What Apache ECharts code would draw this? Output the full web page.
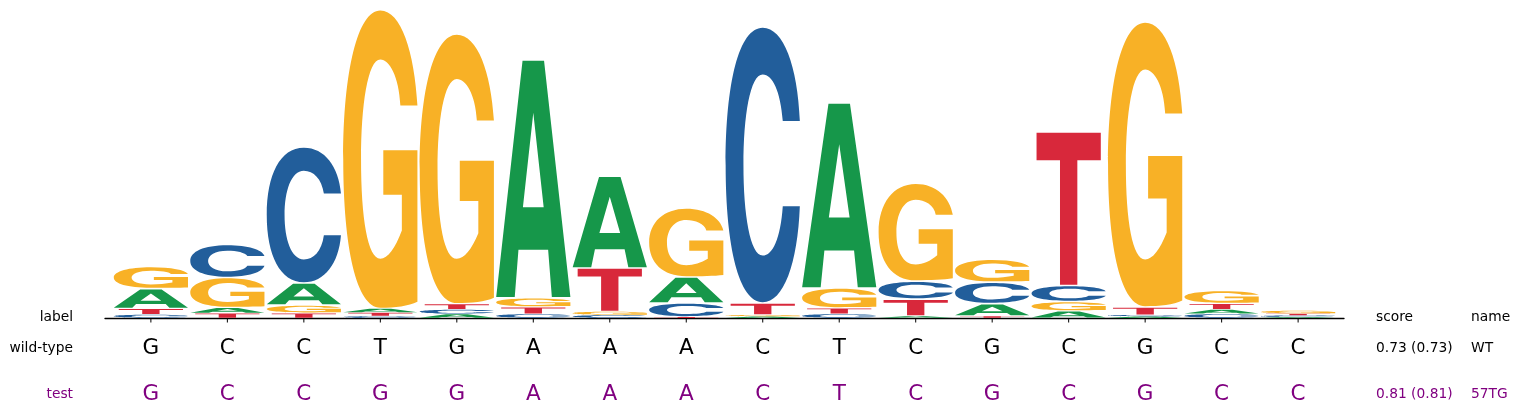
<!DOCTYPE html>
<html>
<head>
<meta charset="utf-8">
<script src="https://cdn.jsdelivr.net/npm/echarts@6/dist/echarts.min.js"></script>
<style>
html,body{margin:0;padding:0;background:#fff;}
#chart{width:1520px;height:415px;}
</style>
</head>
<body>
<div id="chart"></div>
<script>
// ---- data ----
const positions = [0,1,2,3,4,5,6,7,8,9,10,11,12,13,14,15];
const heightA = [0.133,0.037,0.147,0.027,0.027,1.587,0.613,0.173,0.010,1.233,0.013,0.083,0.047,0.010,0.030,0.007];
const heightC = [0.023,0.220,0.907,0.013,0.030,0.027,0.020,0.093,1.840,0.027,0.120,0.143,0.107,0.010,0.027,0.010];
const heightG = [0.147,0.200,0.053,1.993,1.800,0.060,0.023,0.460,0.010,0.133,0.653,0.153,0.063,1.900,0.087,0.020];
const heightT = [0.040,0.033,0.033,0.023,0.037,0.047,0.290,0.007,0.080,0.040,0.113,0.013,1.023,0.053,0.040,0.013];
const wildTypeSeq = ['G','C','C','T','G','A','A','A','C','T','C','G','C','G','C','C'];
const testSeq     = ['G','C','C','G','G','A','A','A','C','T','C','G','C','G','C','C'];
const rowLabels = ['wild-type','test'];
const rowScores = ['0.73 (0.73)','0.81 (0.81)'];
const rowNames = ['WT','57TG'];

// ---- glyph outlines (unit box 0..100, y down) ----
const GLYPH = {
  A: 'M0 100 L35.5 0 L64.5 0 L100 100 L75 100 L70 80 L30 80 L25 100 Z M36 62 L64 62 L50 22 Z',
  C: 'M100 34 L77 34 C74 23 63 17 50 17 C33 17 24 32 24 50 C24 68 33 83 50 83 C63 83 74 77 77 65 L100 65 C97 86 78 100 50 100 C18 100 0 80 0 50 C0 20 18 0 50 0 C78 0 97 14 100 34 Z',
  G: 'M100 32 L77 32 C75 22 62 16.5 50 16.5 C33 16.5 24 32 24 50 C24 70 33 83.5 50 83.5 C60 83.5 70 80 79 74 L79 62 L54 62 L54 47 L100 47 L100 98 C88 99.5 70 100 50 100 C18 100 0 80 0 50 C0 20 20 0 50 0 C78 0 96 14 100 32 Z',
  T: 'M0 0 L100 0 L100 18 L63.5 18 L63.5 100 L36.5 100 L36.5 18 L0 18 Z'
};
const GLYPH_WIDTH = {A:0.97, C:0.97, G:0.97, T:0.84};
const COLORS = {A:'#16974a', C:'#225e9b', G:'#f8b126', T:'#d8283b'};
const HEIGHTS = {A:heightA, C:heightC, G:heightG, T:heightT};
const FONT = 'DejaVu Sans';
const PURPLE = '#800080';

const chart = echarts.init(document.getElementById('chart'), null, {renderer:'canvas'});

function renderItem(params, api) {
  const i = api.value(0);
  const letters = ['A','C','G','T'].map(l => ({l, v: HEIGHTS[l][i]}))
    .sort((a,b) => a.v - b.v);
  const base0 = api.coord([i, 0]);
  const cx = base0[0];
  const children = [];
  let base = 0;
  letters.forEach(o => {
    const w = GLYPH_WIDTH[o.l];
    const left = api.coord([i - w/2, 0])[0];
    const right = api.coord([i + w/2, 0])[0];
    const y0 = api.coord([i, base])[1];
    const y1 = api.coord([i, base + o.v])[1];
    const h = y0 - y1;
    const gap = Math.min(h * 0.15, 1.6);
    children.push({
      type: 'path',
      shape: {pathData: GLYPH[o.l], x: left, y: y1 + gap/2, width: right - left, height: Math.max(h - gap, 0.1), layout: 'cover'},
      style: {fill: COLORS[o.l]}
    });
    base += o.v;
  });
  // tick mark under the axis
  children.push({type:'line', shape:{x1: cx, y1: base0[1], x2: cx, y2: base0[1] + 4.5}, style:{stroke:'#000', lineWidth:1}});
  children.push({type:'text', x: cx, y: 348, style:{text: wildTypeSeq[i], fill:'#000', font:'21.5px "'+FONT+'"', align:'center', verticalAlign:'middle'}});
  children.push({type:'text', x: cx, y: 394, style:{text: testSeq[i], fill:PURPLE, font:'21.5px "'+FONT+'"', align:'center', verticalAlign:'middle'}});
  return {type:'group', children};
}

const txt = (text, x, y, color, align) => ({
  type:'text', x, y,
  style:{text, fill: color, font:'13.8px "'+FONT+'"', align, verticalAlign:'middle'}
});

chart.setOption({
  animation: false,
  grid: {left: 105, right: 176, top: 0, bottom: 97},
  xAxis: {
    type: 'value', min: -0.6, max: 15.6,
    axisLine: {show: true, lineStyle: {color: '#000', width: 1.3}},
    axisTick: {show: false},
    axisLabel: {show: false},
    splitLine: {show: false}
  },
  yAxis: {type: 'value', min: 0, max: 2.12, show: false},
  series: [{
    type: 'custom',
    clip: false,
    renderItem,
    data: positions.map(p => [p])
  }],
  graphic: [
    txt('label', 73, 317, '#000', 'right'),
    txt(rowLabels[0], 73, 348, '#000', 'right'),
    txt(rowLabels[1], 73, 394, PURPLE, 'right'),
    txt('score', 1376, 317, '#000', 'left'),
    txt('name', 1471, 317, '#000', 'left'),
    txt(rowScores[0], 1376, 348, '#000', 'left'),
    txt(rowNames[0], 1471, 348, '#000', 'left'),
    txt(rowScores[1], 1376, 394, PURPLE, 'left'),
    txt(rowNames[1], 1471, 394, PURPLE, 'left')
  ]
});
</script>
</body>
</html>
